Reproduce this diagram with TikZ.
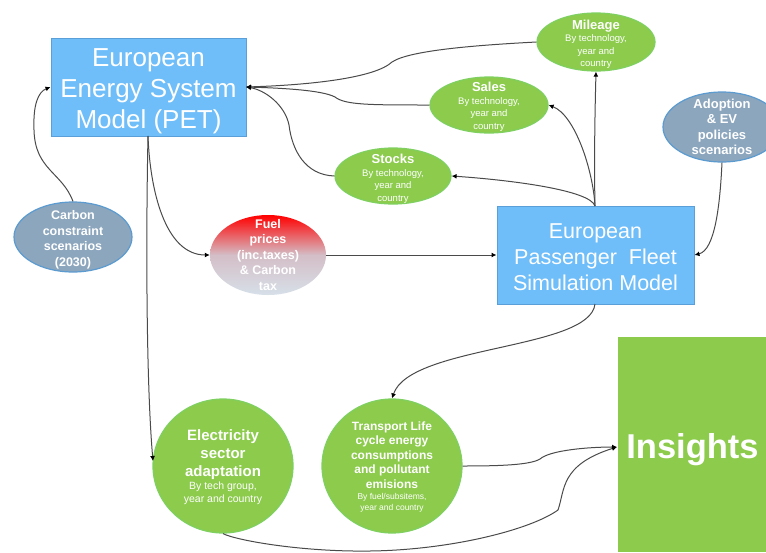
\documentclass[tikz,border=0pt]{standalone}
\usepackage{fontspec}
\setmainfont{Liberation Sans}
\usetikzlibrary{arrows.meta,shapes.geometric}
\definecolor{boxblue}{HTML}{6FBEFA}
\definecolor{boxedge}{HTML}{5A9FD8}
\definecolor{leaf}{HTML}{8CCB4C}
\definecolor{leafedge}{HTML}{7FD060}
\definecolor{slate}{HTML}{8CA6BE}
\definecolor{slateedge}{HTML}{5C9BD0}
\definecolor{linec}{HTML}{4A4A4A}
\newcommand{\fs}[2]{\fontsize{#1}{#2}\selectfont}
\newcommand{\sub}[2]{\fs{#1}{#1}\mdseries #2}
\tikzset{
  x=1pt,y=-1pt,
  blue box/.style={rectangle,draw=boxedge,fill=boxblue,line width=1pt,inner sep=0pt},
  leaf oval/.style={ellipse,draw=leafedge,fill=leaf,line width=1.2pt,inner sep=0pt},
  slate oval/.style={ellipse,draw=slateedge,fill=slate,line width=1.2pt,inner sep=0pt},
  label text/.style={text=white,align=center,inner sep=0pt},
  link/.style={draw=linec,line width=1pt,-{Latex[length=5pt,width=5pt,black]}},
}
\begin{document}
\begin{tikzpicture}
\useasboundingbox (0,0) rectangle (766,552);
\fill[white] (0,0) rectangle (766,552);
\node[blue box,minimum width=195pt,minimum height=98pt] (pet) at (148.5,87) {};
\node[label text,font=\fs{26}{31}] (petT) at (148.5,91) {European\\Energy System\\Model (PET)};
\node[blue box,minimum width=197pt,minimum height=98pt] (fleet) at (595.5,255) {};
\node[label text,font=\fs{21.5}{26}] (fleetT) at (595.5,257) {European\\Passenger\ \ Fleet\\Simulation Model};
\node[rectangle,fill=leaf,minimum width=148pt,minimum height=215pt,inner sep=0pt] (ins) at (692,444.5) {};
\node[label text,font=\fs{34.5}{38}\bfseries] (insT) at (692.5,450) {Insights};
\node[leaf oval,minimum width=118pt,minimum height=58pt] (mil) at (596,42) {};
\node[label text,font=\fs{13}{12.5}\bfseries] (milT) at (596,44.5) {Mileage\\\sub{9.5}{By technology,}\\\sub{9.5}{year and}\\\sub{9.5}{country}};
\node[leaf oval,minimum width=118pt,minimum height=56pt] (sal) at (489,105) {};
\node[label text,font=\fs{13}{12.5}\bfseries] (salT) at (489,107) {Sales\\\sub{9.5}{By technology,}\\\sub{9.5}{year and}\\\sub{9.5}{country}};
\node[leaf oval,minimum width=116pt,minimum height=56pt] (sto) at (393,176) {};
\node[label text,font=\fs{13}{12.5}\bfseries] (stoT) at (393,179) {Stocks\\\sub{9.5}{By technology,}\\\sub{9.5}{year and}\\\sub{9.5}{country}};
\node[slate oval,minimum width=118pt,minimum height=70pt] (ado) at (722,127) {};
\node[label text,font=\fs{13}{15.5}\bfseries] (adoT) at (722,127) {Adoption\\\& EV\\policies\\scenarios};
\node[slate oval,minimum width=118pt,minimum height=70pt] (car) at (73,237) {};
\node[label text,font=\fs{12.5}{15.5}\bfseries] (carT) at (73,240) {Carbon\\constraint\\scenarios\\(2030)};
\node[ellipse,draw=none,top color=red,bottom color=slate!35,middle color=red!25!slate!50,shading angle=0,inner sep=0pt,minimum width=116pt,minimum height=80pt] (fuel) at (268,255) {};
\node[label text,font=\fs{12.5}{15.5}\bfseries] (fuelT) at (268,255) {Fuel\\prices\\(inc.taxes)\\\& Carbon\\tax};
\node[leaf oval,minimum width=140pt,minimum height=134pt] (ele) at (223,466) {};
\node[label text,font=\fs{15}{18}\bfseries] (eleT) at (223,467) {Electricity\\sector\\adaptation\\[-5pt]\sub{10.5}{By tech group,}\\[-5pt]\sub{10.5}{year and country}};
\node[leaf oval,minimum width=140pt,minimum height=134pt] (tra) at (392,466) {};
\node[label text,font=\fs{12}{14.5}\bfseries] (traT) at (392,467) {Transport Life\\cycle energy\\consumptions\\and pollutant\\emisions\\[-3pt]\sub{8.5}{By fuel/subsitems,}\\[-4pt]\sub{8.5}{year and country}};
\coordinate (petin) at (246,87);
\coordinate (petbot) at (148,136);
\coordinate (fleettop) at (595,206);
\coordinate (fleetbot) at (595,304);
\coordinate (insin) at (617,447);
\draw[link] (car.north) .. controls (62,172) and (35,170) .. (34,130) .. controls (33,105) and (38,92) .. (pet.west);
\draw[link] (petbot) .. controls (150,190) and (165,255) .. (fuel.west);
\draw[link] (petbot) .. controls (146,230) and (146,380) .. (153,461);
\draw[link] (fuel.east) -- (fleet.west);
\draw[link] (mil.west) .. controls (480,45) and (410,50) .. (392,62) .. controls (375,78) and (310,85) .. (petin);
\draw[link] (sal.west) .. controls (370,105) and (345,105) .. (335,97) .. controls (322,90) and (280,88) .. (petin);
\draw[link] (sto.west) .. controls (305,175) and (292,150) .. (289,125) .. controls (285,105) and (265,90) .. (petin);
\draw[link] (fleettop) .. controls (590,190) and (510,180) .. (sto.east);
\draw[link] (fleettop) .. controls (593,170) and (575,115) .. (sal.east);
\draw[link] (fleettop) .. controls (594,160) and (595,110) .. (mil.south);
\draw[link] (ado.south) .. controls (720,205) and (715,250) .. (fleet.east);
\draw[link] (fleetbot) .. controls (590,350) and (410,345) .. (tra.north);
\draw[link] (tra.east) .. controls (500,466) and (530,465) .. (540,459) .. controls (550,450) and (590,447) .. (insin);
\draw[link] (ele.south) .. controls (235,540) and (300,552) .. (370,551) .. controls (450,550) and (530,530) .. (558,510) .. controls (565,490) and (560,465) .. (insin);
\end{tikzpicture}
\end{document}
